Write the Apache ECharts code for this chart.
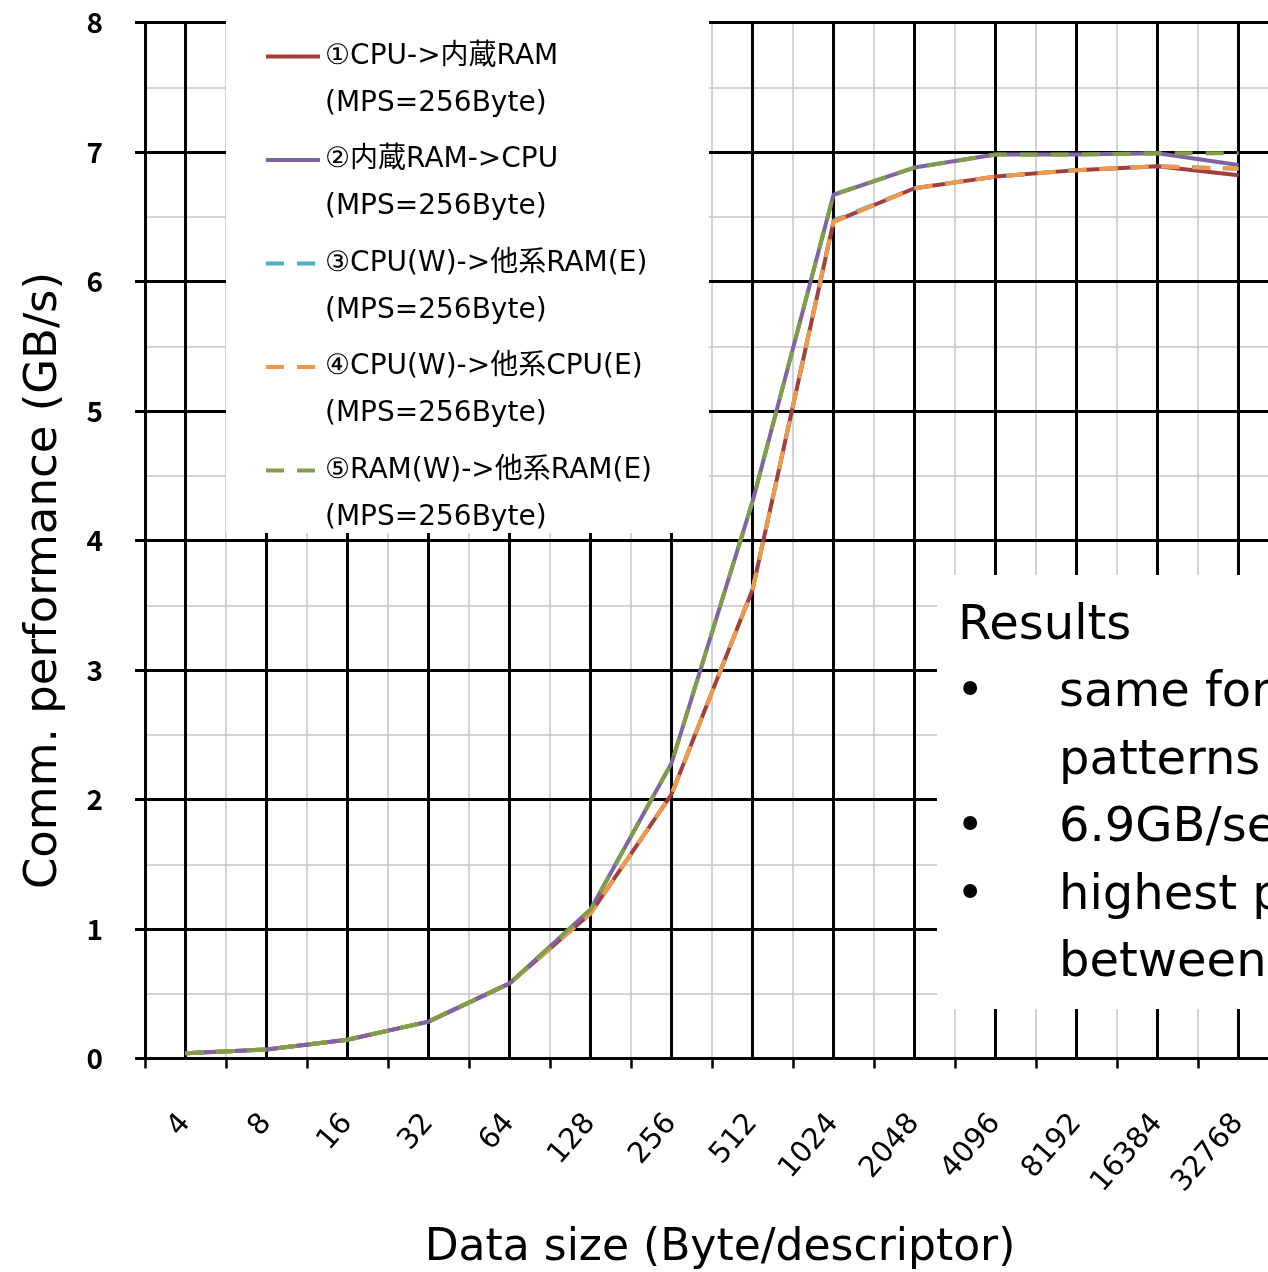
<!DOCTYPE html>
<html><head><meta charset="utf-8">
<script src="https://cdn.jsdelivr.net/npm/echarts@6/dist/echarts.min.js"></script>
<style>html,body{margin:0;padding:0;background:#fff}#c{width:1268px;height:1272px}</style>
</head><body><div id="c"></div>
<script>
// ---- data ----
const categories = ['4','8','16','32','64','128','256','512','1024','2048','4096','8192','16384','32768'];
const seriesNames = ['①CPU->内蔵RAM', '②内蔵RAM->CPU', '③CPU(W)->他系RAM(E)', '④CPU(W)->他系CPU(E)', '⑤RAM(W)->他系RAM(E)'];
const mpsNote = '(MPS=256Byte)';
const cpuToInternalRam  = [0.04, 0.07, 0.145, 0.285, 0.58, 1.12, 2.04, 3.62, 6.46, 6.72, 6.81, 6.86, 6.89, 6.82];
const internalRamToCpu  = [0.04, 0.07, 0.145, 0.285, 0.58, 1.15, 2.28, 4.30, 6.67, 6.88, 6.98, 6.98, 6.99, 6.90];
const cpuToRemoteRam    = [0.04, 0.07, 0.145, 0.285, 0.58, 1.12, 2.04, 3.62, 6.47, 6.72, 6.81, 6.86, 6.89, 6.87];
const cpuToRemoteCpu    = [0.04, 0.07, 0.145, 0.285, 0.58, 1.12, 2.04, 3.62, 6.46, 6.72, 6.81, 6.86, 6.89, 6.87];
const ramToRemoteRam    = [0.04, 0.07, 0.145, 0.285, 0.58, 1.15, 2.28, 4.30, 6.67, 6.88, 6.98, 6.98, 6.99, 6.99];
const yMin = 0, yMax = 8, yInterval = 1;
const resultsLines = ['same for all', 'patterns', '6.9GB/sec', 'highest perf.', 'between'];
const resultsBullets = [true, false, true, true, false];

// ---- chart ----
const colors = ['#A23E3B', '#8064A2', '#4BACC6', '#F79646', '#7F9E45'];
const values = [cpuToInternalRam, internalRamToCpu, cpuToRemoteRam, cpuToRemoteCpu, ramToRemoteRam];
const dashed = [false, false, true, true, true];
const dashPattern = [18, 13];
const chart = echarts.init(document.getElementById('c'), null, {renderer: 'canvas'});
const nCat = categories.length;
const black = '#000';
const gray = '#C4C4C4';

const series = seriesNames.map((n, i) => ({
  name: n, type: 'line', data: values[i], symbol: 'none', showSymbol: false, z: 2 + i * 0.01,
  xAxisIndex: 0, yAxisIndex: 0,
  lineStyle: {color: colors[i], width: 4, type: dashed[i] ? dashPattern : 'solid', cap: 'butt'},
  itemStyle: {color: colors[i]},
  animation: false
}));

const legendData = seriesNames.map((n, i) => ({
  name: n,
  lineStyle: {color: colors[i], width: 4, type: dashed[i] ? dashPattern : 'solid', cap: 'butt'},
  itemStyle: {opacity: 0}
}));

const graphic = [
  {type: 'rect', z: 3, shape: {x: 226, y: 0, width: 483, height: 533}, style: {fill: '#fff'}},
  {type: 'rect', z: 3, shape: {x: 937, y: 575, width: 340, height: 434}, style: {fill: '#fff'}},
  {type: 'text', z: 5, style: {text: 'Results', x: 958, y: 627, font: '48px "DejaVu Sans"', fill: '#000', verticalAlign: 'middle'}}
];
resultsLines.forEach((t, i) => {
  const y = 694 + i * 67.5;
  if (resultsBullets[i]) graphic.push({type: 'text', z: 5, style: {text: '•', x: 956, y: y, font: '48px "DejaVu Sans"', fill: '#000', verticalAlign: 'middle'}});
  graphic.push({type: 'text', z: 5, style: {text: t, x: 1059, y: y, font: '48px "DejaVu Sans"', fill: '#000', verticalAlign: 'middle'}});
});

chart.setOption({
  animation: false,
  backgroundColor: '#fff',
  color: colors,
  grid: {left: 145, top: 22.5, width: 1134, height: 1036, containLabel: false, outerBoundsMode: 'none'},
  legend: {
    orient: 'vertical', left: 264, top: -14, padding: 0,
    itemWidth: 54, itemHeight: 14, itemGap: -37.5, selectedMode: false, z: 6,
    lineStyle: {width: 4},
    itemStyle: {opacity: 0},
    data: legendData,
    formatter: name => '\n' + name + '\n' + mpsNote,
    textStyle: {fontFamily: '"DejaVu Sans", "Noto Sans CJK JP"', fontSize: 28, lineHeight: 47, color: '#000'}
  },
  xAxis: [
    {
      type: 'category', data: categories, boundaryGap: true, z: 4,
      name: 'Data size (Byte/descriptor)', nameLocation: 'middle', nameGap: 168,
      nameTextStyle: {fontFamily: '"DejaVu Sans"', fontSize: 44, color: '#000', padding: [0, 0, 0, 16]},
      axisLine: {show: true, lineStyle: {color: black, width: 3}},
      axisTick: {show: true, interval: 0, length: 10, lineStyle: {color: black, width: 2.5}},
      axisLabel: {interval: 0, rotate: 49, margin: 60, fontFamily: '"DejaVu Sans"', fontSize: 29, color: '#000'},
      splitLine: {show: false}
    },
    {
      type: 'value', min: 0, max: nCat * 2, interval: 2, position: 'top', z: 0,
      axisLine: {show: false}, axisTick: {show: false}, axisLabel: {show: false},
      splitLine: {show: true, lineStyle: {color: gray, width: 1.5}}
    },
    {
      type: 'value', min: 0, max: nCat * 2, interval: 2, position: 'top', z: 1,
      axisLine: {show: false}, axisTick: {show: false}, axisLabel: {show: false},
      splitLine: {show: false},
      minorTick: {show: false, splitNumber: 2},
      minorSplitLine: {show: true, lineStyle: {color: black, width: 3}}
    }
  ],
  yAxis: [
    {
      type: 'value', min: yMin, max: yMax, interval: yInterval, z: 1,
      name: 'Comm. performance (GB/s)', nameLocation: 'middle', nameRotate: 90, nameGap: 78,
      nameTextStyle: {fontFamily: '"DejaVu Sans"', fontSize: 45, color: '#000', padding: [0, 80, 0, 0]},
      axisLine: {show: true, lineStyle: {color: black, width: 3}},
      axisTick: {show: true, length: 10, lineStyle: {color: black, width: 3}},
      axisLabel: {margin: 42, fontFamily: '"Noto Sans CJK JP"', fontWeight: 'bold', fontSize: 28, color: '#000'},
      splitLine: {show: true, lineStyle: {color: black, width: 3}}
    },
    {
      type: 'value', min: yMin, max: yMax, interval: yInterval / 2, z: 0,
      axisLine: {show: false}, axisTick: {show: false}, axisLabel: {show: false},
      splitLine: {show: true, lineStyle: {color: gray, width: 1.5}}
    }
  ],
  series: series,
  graphic: graphic
});
</script></body></html>
